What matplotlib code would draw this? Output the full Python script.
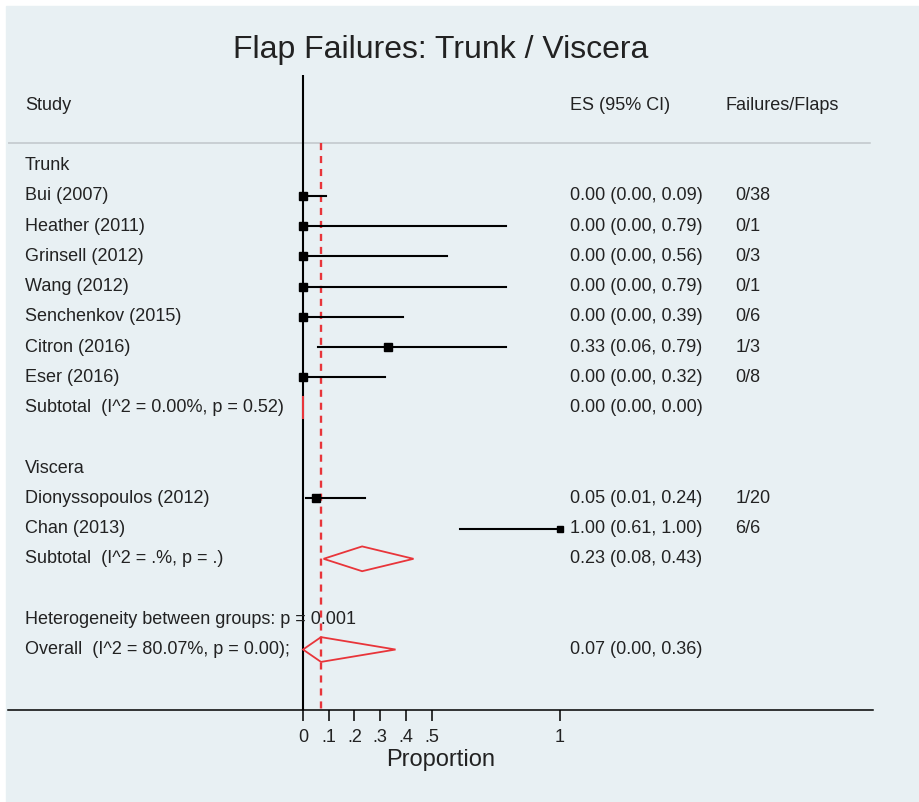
import matplotlib.pyplot as plt
from matplotlib.patches import Polygon

plt.rcParams['font.family'] = ['Liberation Sans', 'DejaVu Sans']

studies = ["Bui (2007)", "Heather (2011)", "Grinsell (2012)", "Wang (2012)",
           "Senchenkov (2015)", "Citron (2016)", "Eser (2016)",
           "Dionyssopoulos (2012)", "Chan (2013)"]
es = [0.00, 0.00, 0.00, 0.00, 0.00, 0.33, 0.00, 0.05, 1.00]
lo = [0.00, 0.00, 0.00, 0.00, 0.00, 0.06, 0.00, 0.01, 0.61]
hi = [0.09, 0.79, 0.56, 0.79, 0.39, 0.79, 0.32, 0.24, 1.00]
counts = ["0/38", "0/1", "0/3", "0/1", "0/6", "1/3", "0/8", "1/20", "6/6"]
study_rows = [3, 4, 5, 6, 7, 8, 9, 13, 14]

groups = ["Trunk", "Viscera"]
group_rows = [2, 12]

sub_labels = ["Subtotal  (I^2 = 0.00%, p = 0.52)", "Subtotal  (I^2 = .%, p = .)"]
sub_es = [0.00, 0.23]
sub_lo = [0.00, 0.08]
sub_hi = [0.00, 0.43]
sub_rows = [10, 15]

overall_label = "Overall  (I^2 = 80.07%, p = 0.00);"
overall = (0.07, 0.00, 0.36)
overall_row = 18
het_label = "Heterogeneity between groups: p = 0.001"
het_row = 17

xticks = [0, 0.1, 0.2, 0.3, 0.4, 0.5, 1]
xticklabels = ["0", ".1", ".2", ".3", ".4", ".5", "1"]

bg = "#e8f0f3"
red = "#e8353a"
fs = 13
txt = "#222222"

fig = plt.figure(figsize=(9.19, 8.02), dpi=100, facecolor="white")
fig.patches.append(plt.Rectangle((6 / 919, 0), 1, 1 - 6 / 802, transform=fig.transFigure,
                                 color=bg, zorder=-10))
ax = fig.add_axes([8 / 919, (802 - 710) / 802, (873 - 8) / 919, (710 - 75) / 802])
ax.set_facecolor("none")
ax.set_xlim(-1.148, 2.218)
ax.set_ylim(20, -1)
for s in ["top", "right", "left"]:
    ax.spines[s].set_visible(False)
ax.spines["bottom"].set_linewidth(1.1)
ax.set_yticks([])
ax.set_xticks(xticks)
ax.set_xticklabels(xticklabels, fontsize=fs, color=txt)
ax.tick_params(axis="x", length=8, width=1.1, pad=6)
ax.set_xlabel("Proportion", fontsize=17, labelpad=2, color=txt)

x_study, x_es, x_n = -1.082, 1.039, 1.683

# header
ax.text(x_study, 0, "Study", fontsize=fs, va="center", color=txt)
ax.text(x_es, 0, "ES (95% CI)", fontsize=fs, va="center", color=txt)
ax.text(1.645, 0, "Failures/Flaps", fontsize=fs, va="center", color=txt)
ax.axhline(1.25, color="#c0c6ca", lw=1.1, xmax=0.997)

# reference lines
ax.plot([0, 0], [-1, 20], color="black", lw=1.5, zorder=3)
ax.plot([overall[0], overall[0]], [1.25, 20], color=red, lw=1.7, ls=(0, (3, 2.5)), zorder=2)

for g, r in zip(groups, group_rows):
    ax.text(x_study, r, g, fontsize=fs, va="center", color=txt)

for name, e, l, h, n, r in zip(studies, es, lo, hi, counts, study_rows):
    ax.plot([l, h], [r, r], color="black", lw=1.5, zorder=4)
    ms = 4.5 if n == "6/6" else 5.5
    ax.plot(e, r, marker="s", color="black", ms=ms, zorder=5)
    ax.text(x_study, r, name, fontsize=fs, va="center", color=txt)
    ax.text(x_es, r, f"{e:.2f} ({l:.2f}, {h:.2f})", fontsize=fs, va="center", color=txt)
    ax.text(x_n, r, n, fontsize=fs, va="center", color=txt)


def diamond(e, l, h, r):
    pts = [(l, r), (e, r - 0.41), (h, r), (e, r + 0.41)]
    if h - l < 1e-9:
        ax.plot([e, e], [r - 0.35, r + 0.35], color=red, lw=1.5, zorder=6)
    else:
        ax.add_patch(Polygon(pts, closed=True, fill=False, ec=red, lw=1.3, zorder=6))


for lab, e, l, h, r in zip(sub_labels, sub_es, sub_lo, sub_hi, sub_rows):
    diamond(e, l, h, r)
    ax.text(x_study, r, lab, fontsize=fs, va="center", color=txt)
    ax.text(x_es, r, f"{e:.2f} ({l:.2f}, {h:.2f})", fontsize=fs, va="center", color=txt)

ax.text(x_study, het_row, het_label, fontsize=fs, va="center", color=txt)
diamond(*overall, overall_row)
ax.text(x_study, overall_row, overall_label, fontsize=fs, va="center", color=txt)
ax.text(x_es, overall_row, "{:.2f} ({:.2f}, {:.2f})".format(*overall), fontsize=fs,
        va="center", color=txt)

fig.text(441 / 919, 1 - 50 / 802, "Flap Failures: Trunk / Viscera", fontsize=23,
         ha="center", va="center", color=txt)

fig.savefig("out.png", dpi=100, facecolor=fig.get_facecolor())
